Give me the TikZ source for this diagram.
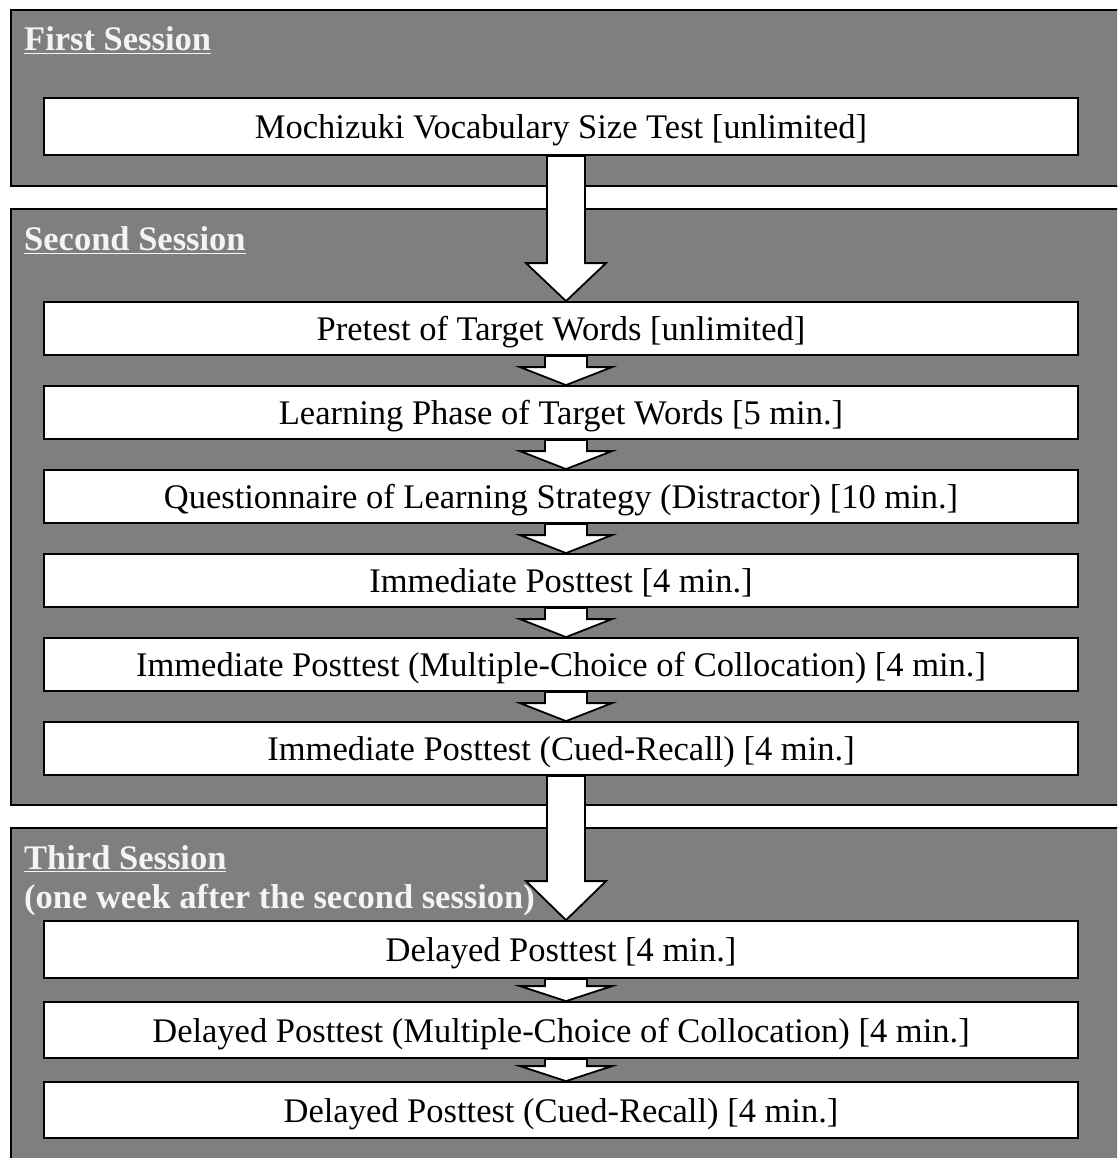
\documentclass[tikz,border=0pt]{standalone}
\usepackage{fontspec}
\setmainfont{Liberation Serif}
\usetikzlibrary{calc}
\definecolor{sessgray}{RGB}{127,127,127}
\definecolor{headwhite}{RGB}{244,244,244}
\tikzset{
  session/.style={draw=black, line width=1.8pt, fill=sessgray, anchor=north west, inner sep=0pt},
  stepbox/.style={draw=black, line width=1.8pt, fill=white, minimum width=1034pt, inner sep=0pt,
    text height=24pt, text depth=0pt, font=\fontsize{34.5}{40}\selectfont},
  heading/.style={anchor=base west, inner sep=0pt, text=headwhite, font=\fontsize{34.5}{40}\selectfont\bfseries},
  barrow/.style={draw=black, line width=1.8pt, fill=white, line join=miter},
}
% from, to, shaft half width, head half width, head length, x offset
\newcommand\blockarrow[6]{%
  \draw[barrow] ($(#1.south)+(#6-#3,0)$) -- ($(#2.north)+(#6-#3,-#5)$)
    -- ($(#2.north)+(#6-#4,-#5)$) -- ($(#2.north)+(#6,0)$)
    -- ($(#2.north)+(#6+#4,-#5)$) -- ($(#2.north)+(#6+#3,-#5)$)
    -- ($(#1.south)+(#6+#3,0)$) -- cycle;}
\begin{document}
\begin{tikzpicture}[x=1pt,y=-1pt]
\clip (0,0) rectangle (1117,1158);
\fill[white] (0,0) rectangle (1117,1158);
% session panels
\node[session, minimum width=1130pt, minimum height=176pt] (sess1) at (10,9) {};
\node[session, minimum width=1130pt, minimum height=596pt] (sess2) at (10,208) {};
\node[session, minimum width=1130pt, minimum height=360pt] (sess3) at (10,827) {};
% headings
\node[heading] (h1) at (24,51) {\underline{First Session}};
\node[heading] (h2) at (24,251) {\underline{Second Session}};
\node[heading] (h3) at (24,869) {\underline{Third Session}};
\node[heading] (h3b) at (24,908) {(one week after the second session)};
% steps
\node[stepbox, minimum height=57pt] (voc) at (561,126.5) {Mochizuki Vocabulary Size Test [unlimited]};
\node[stepbox, minimum height=53pt] (pre) at (561,328.5) {Pretest of Target Words [unlimited]};
\node[stepbox, minimum height=53pt] (learn) at (561,412.5) {Learning Phase of Target Words [5 min.]};
\node[stepbox, minimum height=53pt] (quest) at (561,496.5) {Questionnaire of Learning Strategy (Distractor) [10 min.]};
\node[stepbox, minimum height=53pt] (imm) at (561,580.5) {Immediate Posttest [4 min.]};
\node[stepbox, minimum height=53pt] (immmc) at (561,664.5) {Immediate Posttest (Multiple-Choice of Collocation) [4 min.]};
\node[stepbox, minimum height=53pt] (immcr) at (561,748.5) {Immediate Posttest (Cued-Recall) [4 min.]};
\node[stepbox, minimum height=57pt] (del) at (561,949.5) {Delayed Posttest [4 min.]};
\node[stepbox, minimum height=56pt] (delmc) at (561,1030) {Delayed Posttest (Multiple-Choice of Collocation) [4 min.]};
\node[stepbox, minimum height=56pt] (delcr) at (561,1110) {Delayed Posttest (Cued-Recall) [4 min.]};
% arrows
\blockarrow{voc}{pre}{19}{40}{38}{5}
\blockarrow{pre}{learn}{21}{46}{18}{5}
\blockarrow{learn}{quest}{21}{46}{18}{5}
\blockarrow{quest}{imm}{21}{46}{18}{5}
\blockarrow{imm}{immmc}{21}{46}{18}{5}
\blockarrow{immmc}{immcr}{21}{46}{18}{5}
\blockarrow{immcr}{del}{19}{40}{39}{5}
\blockarrow{del}{delmc}{21}{46}{15}{5}
\blockarrow{delmc}{delcr}{21}{46}{15}{5}
\end{tikzpicture}
\end{document}
